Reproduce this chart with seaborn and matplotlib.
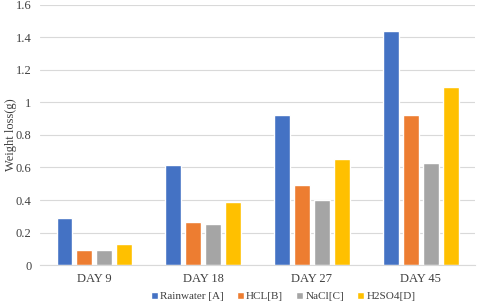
import matplotlib
matplotlib.use('Agg')
import matplotlib.pyplot as plt
import seaborn as sns
import pandas as pd
from matplotlib.ticker import FuncFormatter

# Datos
dias = ['DAY 9', 'DAY 18', 'DAY 27', 'DAY 45']
series = ['Rainwater [A]', 'HCL[B]', 'NaCl[C]', 'H2SO4[D]']
rainwater = [0.29, 0.615, 0.92, 1.44]
hcl = [0.095, 0.265, 0.49, 0.92]
nacl = [0.095, 0.255, 0.40, 0.63]
h2so4 = [0.13, 0.385, 0.655, 1.095]

colores = ['#4472C4', '#ED7D31', '#A5A5A5', '#FFC000']

df = pd.DataFrame({'Dia': dias, series[0]: rainwater, series[1]: hcl,
                   series[2]: nacl, series[3]: h2so4})
df = df.melt(id_vars='Dia', var_name='Medio', value_name='Perdida')

sns.set_style('white')
plt.rcParams['font.family'] = ['Liberation Serif', 'DejaVu Serif']

fig, ax = plt.subplots(figsize=(4.8, 3.05), dpi=100)
fig.subplots_adjust(left=0.083, right=0.99, top=0.984, bottom=0.131)

sns.barplot(data=df, x='Dia', y='Perdida', hue='Medio', order=dias,
            hue_order=series, palette=colores, width=0.73, gap=0.2,
            saturation=1, ax=ax)

ax.set_ylim(0, 1.6)
ax.set_yticks([0, 0.2, 0.4, 0.6, 0.8, 1.0, 1.2, 1.4, 1.6])
ax.yaxis.set_major_formatter(FuncFormatter(lambda v, p: f'{v:g}'))
ax.grid(True, axis='y', color='#D9D9D9', linewidth=0.8)
ax.set_axisbelow(True)
for lado in ['top', 'right', 'left']:
    ax.spines[lado].set_visible(False)
ax.spines['bottom'].set_color('#D9D9D9')
ax.tick_params(axis='both', length=0, labelsize=9, colors='#404040', pad=6)
ax.set_xlabel('')
ax.set_ylabel('Weight loss(g)', fontsize=9, color='#404040')
ax.yaxis.set_label_coords(-0.052, 0.5)

handles, labels = ax.get_legend_handles_labels()
ax.get_legend().remove()
fig.legend(handles, labels, loc='center', bbox_to_anchor=(0.59, 0.028), ncol=4,
           frameon=False, fontsize=8, handlelength=0.6, handleheight=0.6,
           handletextpad=0.2, columnspacing=1.2, labelcolor='#404040')

fig.savefig('out.png', dpi=100)
